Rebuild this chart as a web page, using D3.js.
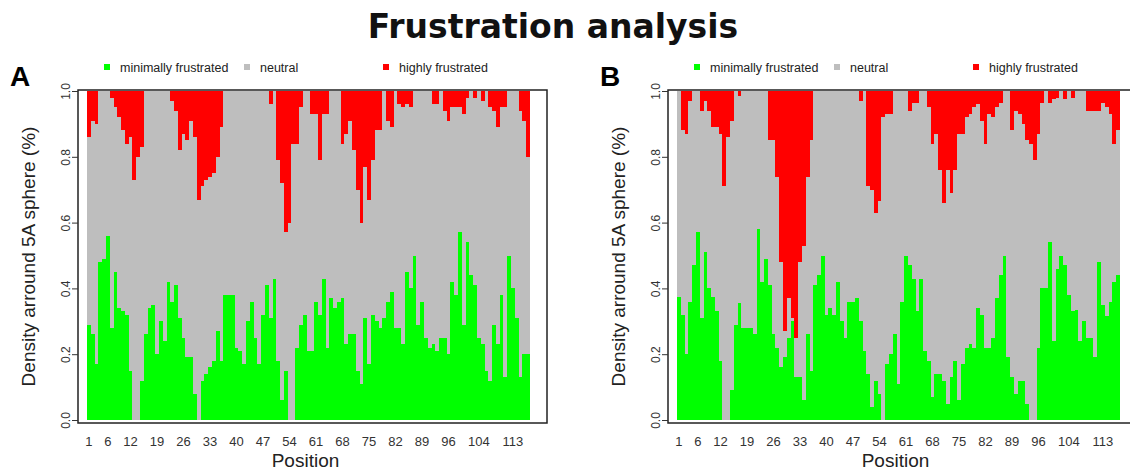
<!DOCTYPE html>
<html>
<head>
<meta charset="utf-8">
<script src="https://cdn.jsdelivr.net/npm/d3@7"></script>
<style>
  body { margin: 0; background: #fff; }
  text { font-family: "Liberation Sans", Arial, sans-serif; }
  text.title { font-family: "DejaVu Sans", sans-serif; }
</style>
</head>
<body>
<svg id="mainsvg" width="1130" height="470"></svg>
<script>
// residue positions 1..117
const positions = d3.range(1, 118);
const tickLabels = [1, 6, 12, 19, 26, 33, 40, 47, 54, 61, 68, 75, 82, 89, 96, 104, 113];
const yTicks = [0, 0.2, 0.4, 0.6, 0.8, 1.0];
const legendLabels = ['minimally frustrated', 'neutral', 'highly frustrated'];

// panel A
const greenA = [
  .29, .26, .17, .48, .49, .56, .28, .45, .34, .33,
  .32, .15, 0, 0, .12, .26, .34, .35, .20, .30,
  .24, .42, .36, .41, .31, .25, .19, .19, .08, 0,
  .12, .14, .16, .18, .27, .18, .38, .38, .38, .22,
  .21, .17, .30, .36, .25, .17, .32, .41, .31, .43,
  .18, .06, .15, 0, 0, .22, .29, .32, .21, .21,
  .36, .32, .43, .22, .37, .34, .36, .37, .23, .26,
  .26, .15, .11, .31, .17, .32, .30, .28, .31, .36,
  .39, .28, .28, .23, .45, .40, .50, .29, .36, .25,
  .22, .23, .21, .25, .25, .20, .42, .38, .57, .29,
  .54, .44, .41, .25, .23, .15, .12, .29, .23, .38,
  .13, .50, .40, .31, .13, .20, .20
];
const redA = [
  .14, .09, .10, 0, 0, 0, .02, .05, .08, .12,
  .16, .14, .27, .20, .17, 0, 0, 0, 0, 0,
  0, 0, .03, .06, .18, .13, .15, .09, .14, .33,
  .29, .27, .26, .25, .20, .11, 0, 0, 0, 0,
  0, 0, 0, 0, 0, 0, 0, 0, .04, 0,
  .21, .28, .43, .40, .16, .16, .05, 0, 0, .07,
  .07, .21, .07, .07, 0, 0, 0, .16, .13, .09,
  .18, .30, .40, .23, .33, .21, .12, .12, 0, .09,
  .11, 0, .04, .05, .04, .05, 0, 0, 0, 0,
  0, .04, .04, 0, .06, .09, .05, .05, .05, .07,
  .02, 0, .02, 0, .03, 0, .05, .06, .11, .05,
  .05, 0, 0, 0, .06, .09, .20
];

// panel B
const greenB = [
  .375, .32, .20, .36, .47, .57, .31, .51, .40, .375,
  .33, .18, 0, 0, .09, .29, .355, .28, .28, .28,
  .26, .58, .42, .49, .41, .26, .22, .16, .19, .25,
  .30, .13, .13, .06, .26, .15, .41, .44, .50, .32,
  .34, .32, .42, .30, .25, .36, .36, .37, .30, .21,
  .14, .04, .12, .08, 0, .17, .20, .26, .11, .36,
  .50, .47, .43, .33, .43, .21, .18, .07, .14, .14,
  .12, .05, .13, .18, .06, .17, .22, .23, .22, .34,
  .32, .22, .22, .25, .37, .44, .50, .19, .13, .08,
  .12, .12, .05, 0, 0, .22, .40, .40, .54, .24,
  .46, .50, .47, .38, .33, .335, .24, .30, .25, .25,
  .19, .48, .35, .315, .36, .42, .44
];
const redB = [
  0, .12, .13, .03, 0, 0, .06, .03, .06, .11,
  .11, .13, .29, .14, .09, 0, .015, 0, 0, 0,
  0, 0, 0, 0, .15, .15, .26, .52, .73, .63,
  .69, .75, .52, .47, .26, .15, 0, 0, 0, 0,
  0, 0, 0, 0, 0, 0, 0, 0, .03, 0,
  .29, .30, .37, .335, .08, .07, .07, 0, 0, 0,
  0, .06, .035, .035, 0, 0, .05, .16, .13, .24,
  .34, .24, .31, .24, .13, .13, .08, .07, .05, .04,
  .09, .16, .07, .08, .05, .035, 0, 0, .12, .06,
  .07, .10, .15, .16, .21, .13, .035, 0, .035, .025,
  .02, 0, .025, 0, .02, 0, 0, 0, .06, .06,
  .06, .06, .035, .05, .07, .16, .12
];

const colors = {min: '#00ff00', neu: '#bebebe', high: '#ff0000'};

const svg = d3.select('#mainsvg');

svg.append('text')
  .attr('class', 'title')
  .text('Frustration analysis')
  .attr('x', 553).attr('y', 38)
  .attr('text-anchor', 'middle')
  .attr('font-weight', 'bold')
  .attr('font-size', 33)
  .attr('fill', '#111');

function drawPanel(letter, green, red, off) {
  const box = {left: 78 + off, right: 547 + off, top: 90, bottom: 423};
  const x = d3.scaleBand().domain(positions).range([87 + off, 530 + off]).padding(0);
  const y = d3.scaleLinear().domain([0, 1]).range([420, 91]);
  const g = svg.append('g');

  // panel letter
  g.append('text').text(letter)
    .attr('x', 10 + off).attr('y', 86)
    .attr('font-weight', 'bold').attr('font-size', 28).attr('fill', '#000');

  // legend
  const legX = [107, 247, 386];
  const legC = [colors.min, colors.neu, colors.high];
  legendLabels.forEach((t, i) => {
    g.append('rect')
      .attr('x', legX[i] + off - 3).attr('y', 64).attr('width', 6).attr('height', 6)
      .attr('fill', legC[i]);
    g.append('text').text(t)
      .attr('x', legX[i] + off + 13).attr('y', 72)
      .attr('font-size', 12.5).attr('fill', '#222');
  });

  const bars = g.append('g').attr('shape-rendering', 'crispEdges');
  positions.forEach((p, i) => {
    bars.append('rect')
      .attr('x', x(p)).attr('width', x.bandwidth() + 0.3)
      .attr('y', y(1)).attr('height', y(0) - y(1))
      .attr('fill', colors.neu);
    if (green[i] > 0) {
      bars.append('rect')
        .attr('x', x(p)).attr('width', x.bandwidth() + 0.3)
        .attr('y', y(green[i])).attr('height', y(0) - y(green[i]))
        .attr('fill', colors.min);
    }
    if (red[i] > 0) {
      bars.append('rect')
        .attr('x', x(p)).attr('width', x.bandwidth() + 0.3)
        .attr('y', y(1)).attr('height', y(1 - red[i]) - y(1))
        .attr('fill', colors.high);
    }
  });

  g.append('rect')
    .attr('x', box.left).attr('y', box.top)
    .attr('width', box.right - box.left).attr('height', box.bottom - box.top)
    .attr('fill', 'none').attr('stroke', '#222').attr('stroke-width', 1.5);

  // y axis
  const yAxis = d3.axisLeft(y).tickValues(yTicks).tickFormat(d3.format('.1f')).tickSize(6);
  const ya = g.append('g').attr('transform', `translate(${box.left},0)`).call(yAxis);
  ya.select('.domain').remove();
  ya.selectAll('.tick line').attr('stroke', '#333');
  ya.selectAll('.tick text')
    .attr('transform', 'rotate(-90)')
    .attr('x', 0).attr('y', -8).attr('dy', 0)
    .attr('text-anchor', 'middle')
    .attr('font-size', 12).attr('fill', '#333');

  // x axis labels only
  const xAxis = d3.axisBottom(x).tickValues(tickLabels).tickSize(0).tickPadding(3);
  const xa = g.append('g').attr('transform', `translate(0,434)`).call(xAxis);
  xa.select('.domain').remove();
  xa.selectAll('.tick text')
    .attr('font-size', 13).attr('fill', '#333');

  g.append('text').text('Position')
    .attr('x', (box.left + box.right) / 2 - 7).attr('y', 467)
    .attr('text-anchor', 'middle').attr('font-size', 19).attr('fill', '#222');

  g.append('text').text('Density arround 5A sphere (%)')
    .attr('transform', `translate(${35 + off},${(box.top + box.bottom) / 2}) rotate(-90)`)
    .attr('text-anchor', 'middle').attr('font-size', 19).attr('fill', '#222');
}

drawPanel('A', greenA, redA, 0);
drawPanel('B', greenB, redB, 590);
</script>
</body>
</html>
